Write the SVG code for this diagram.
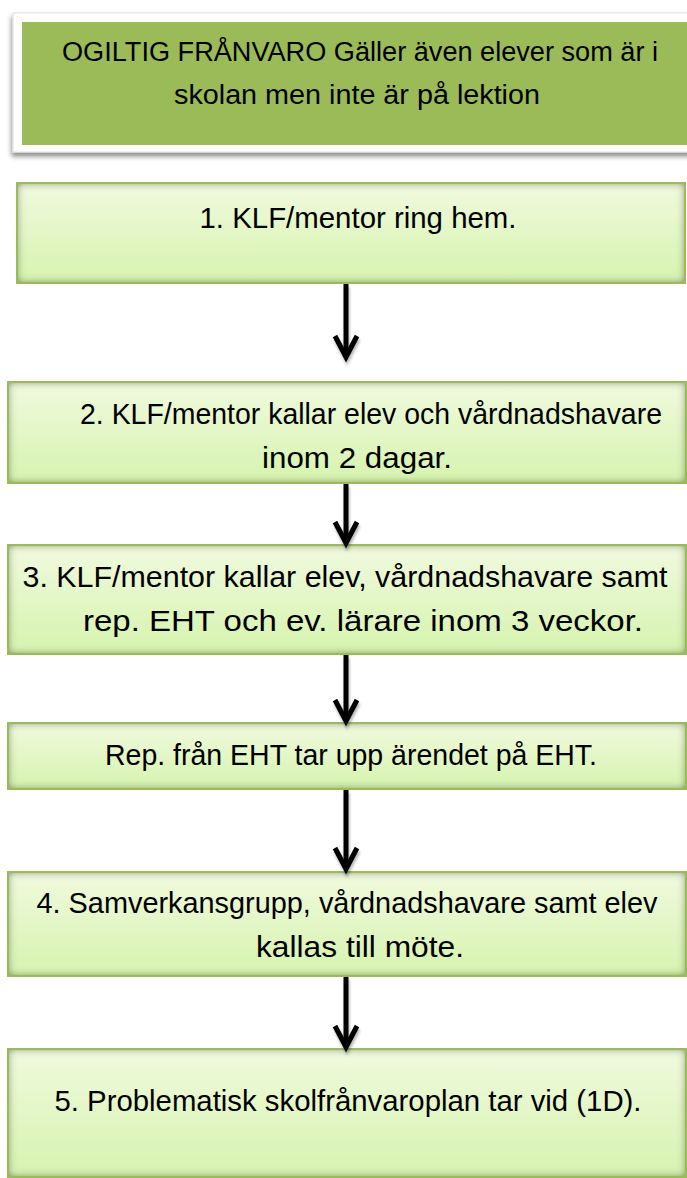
<svg xmlns="http://www.w3.org/2000/svg" width="687" height="1178" viewBox="0 0 687 1178">
  <defs>
    <linearGradient id="boxGrad" x1="0" y1="0" x2="0" y2="1">
      <stop offset="0" stop-color="#F0FADF"/>
      <stop offset="1" stop-color="#D6F3AE"/>
    </linearGradient>
    <filter id="inner" x="-10%" y="-20%" width="120%" height="140%">
      <feFlood flood-color="#4E5A38" result="flood"/>
      <feComposite in="flood" in2="SourceAlpha" operator="out" result="inv"/>
      <feGaussianBlur in="inv" stdDeviation="4.5"/>
      <feComposite in2="SourceAlpha" operator="in" result="shadow"/>
      <feMerge>
        <feMergeNode in="SourceGraphic"/>
        <feMergeNode in="shadow"/>
      </feMerge>
    </filter>
    <filter id="drop" x="-5%" y="-10%" width="110%" height="130%">
      <feGaussianBlur in="SourceAlpha" stdDeviation="2.5"/>
      <feOffset dx="-1" dy="4" result="b"/>
      <feComponentTransfer><feFuncA type="linear" slope="0.45"/></feComponentTransfer>
      <feMerge>
        <feMergeNode/>
        <feMergeNode in="SourceGraphic"/>
      </feMerge>
    </filter>
    <filter id="arrowShadow" filterUnits="userSpaceOnUse" x="300" y="270" width="100" height="800">
      <feGaussianBlur in="SourceAlpha" stdDeviation="1.5"/>
      <feOffset dx="1" dy="3"/>
      <feComponentTransfer><feFuncA type="linear" slope="0.3"/></feComponentTransfer>
      <feMerge>
        <feMergeNode/>
        <feMergeNode in="SourceGraphic"/>
      </feMerge>
    </filter>
    <marker id="chev" markerUnits="userSpaceOnUse" markerWidth="30" markerHeight="30" refX="0" refY="0" orient="auto" overflow="visible">
      <path d="M-21,-11 L0,0 L-21,11" fill="none" stroke="#000" stroke-width="5" stroke-linejoin="miter" stroke-miterlimit="10"/>
    </marker>
    <style>
      .fill { fill: url(#boxGrad); filter: url(#inner); }
      .border { fill: none; stroke: #9BBB59; stroke-width: 2; }
      .lbl { font-family: "Liberation Sans", Arial, sans-serif; font-size: 29px; fill: #000; text-anchor: middle; }
      .hdr { font-size: 27px; }
      .conn { stroke: #000; stroke-width: 5; fill: none; marker-end: url(#chev); }
    </style>
  </defs>

  <rect width="687" height="1178" fill="#FFFFFF"/>

  <g id="header">
    <rect x="13" y="13" width="680" height="139" fill="#FFFFFF" stroke="#E2E2E2" stroke-width="1" filter="url(#drop)"/>
    <rect x="22" y="22" width="665" height="123" fill="#9BBB59"/>
    <text class="lbl hdr" x="360" y="61" textLength="596" lengthAdjust="spacingAndGlyphs">OGILTIG FRÅNVARO Gäller även elever som är i</text>
    <text class="lbl hdr" x="357" y="104" textLength="366" lengthAdjust="spacingAndGlyphs">skolan men inte är på lektion</text>
  </g>

  <g id="step1">
    <rect class="fill" x="17" y="183" width="668" height="100"/>
    <rect class="border" x="17" y="183" width="668" height="100"/>
    <text class="lbl" x="358" y="228" textLength="317" lengthAdjust="spacingAndGlyphs">1. KLF/mentor ring hem.</text>
  </g>

  <g id="step2">
    <rect class="fill" x="8" y="382" width="678" height="101"/>
    <rect class="border" x="8" y="382" width="678" height="101"/>
    <text class="lbl" x="371" y="424" textLength="582" lengthAdjust="spacingAndGlyphs">2. KLF/mentor kallar elev och vårdnadshavare</text>
    <text class="lbl" x="357" y="468" textLength="190" lengthAdjust="spacingAndGlyphs">inom 2 dagar.</text>
  </g>

  <g id="step3">
    <rect class="fill" x="8" y="545" width="678" height="109"/>
    <rect class="border" x="8" y="545" width="678" height="109"/>
    <text class="lbl" x="345" y="587" textLength="645" lengthAdjust="spacingAndGlyphs">3. KLF/mentor kallar elev, vårdnadshavare samt</text>
    <text class="lbl" x="363" y="631" textLength="560" lengthAdjust="spacingAndGlyphs">rep. EHT och ev. lärare inom 3 veckor.</text>
  </g>

  <g id="step-eht">
    <rect class="fill" x="8" y="723" width="678" height="66"/>
    <rect class="border" x="8" y="723" width="678" height="66"/>
    <text class="lbl" x="351" y="765" textLength="492" lengthAdjust="spacingAndGlyphs">Rep. från EHT tar upp ärendet på EHT.</text>
  </g>

  <g id="step4">
    <rect class="fill" x="8" y="872" width="678" height="104"/>
    <rect class="border" x="8" y="872" width="678" height="104"/>
    <text class="lbl" x="347" y="913" textLength="621" lengthAdjust="spacingAndGlyphs">4. Samverkansgrupp, vårdnadshavare samt elev</text>
    <text class="lbl" x="360" y="957" textLength="208" lengthAdjust="spacingAndGlyphs">kallas till möte.</text>
  </g>

  <g id="step5">
    <rect class="fill" x="8" y="1049" width="678" height="128"/>
    <rect class="border" x="8" y="1049" width="678" height="128"/>
    <text class="lbl" x="348" y="1111" textLength="587" lengthAdjust="spacingAndGlyphs">5. Problematisk skolfrånvaroplan tar vid (1D).</text>
  </g>

  <g id="connectors" filter="url(#arrowShadow)">
    <line class="conn" x1="346" y1="284" x2="346" y2="357"/>
    <line class="conn" x1="346" y1="484" x2="346" y2="543"/>
    <line class="conn" x1="346" y1="655" x2="346" y2="721"/>
    <line class="conn" x1="346" y1="790" x2="346" y2="869"/>
    <line class="conn" x1="346" y1="977" x2="346" y2="1047"/>
  </g>
</svg>
